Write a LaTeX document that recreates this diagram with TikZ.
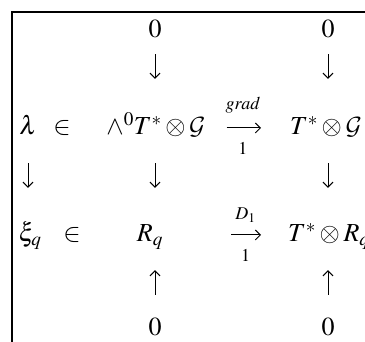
\documentclass[tikz,border=0pt]{standalone}
\usepackage{mathptmx}
\DeclareMathAlphabet{\mathcm}{OMS}{cmsy}{m}{n}
\usetikzlibrary{arrows.meta}
\tikzset{
  cd-entry/.style={inner sep=0pt, anchor=base, text height=20pt, text depth=6pt,
    font=\fontsize{26}{31}\selectfont},
  cd-map/.style={-{Straight Barb[length=5pt,width=10pt]}, line width=1pt},
  cd-label/.style={font=\fontsize{18}{21}\selectfont, inner sep=0pt},
  cd-frame/.style={line width=1.2pt},
}

\begin{document}
\begin{tikzpicture}[x=1pt, y=1pt]
  \useasboundingbox (0,0) rectangle (365,342);
  \clip (0,0) rectangle (365,342);
  % frame
  \draw[cd-frame] (12,0) -- (12,330) -- (366,330);

  % first row of zeros
  \node[cd-entry] (z1) at (155,304) {$0$};
  \node[cd-entry] (z2) at (328,304) {$0$};
  % row of lambda
  \node[cd-entry] (lam) at (28,207) {$\lambda$};
  \node[cd-entry] (in1) at (62,207) {$\in$};
  \node[cd-entry] (a1)  at (156,207) {$\wedge^0 T^* \otimes \mathcm{G}$};
  \node[cd-entry, anchor=base west] (b1) at (290,207) {$T^* \otimes \mathcm{G}$};
  % row of xi
  \node[cd-entry] (xi) at (30,100) {$\xi_q$};
  \node[cd-entry] (in2) at (72,100) {$\in$};
  \node[cd-entry] (r)  at (150,100) {$R_q$};
  \node[cd-entry, anchor=base west] (b2) at (288,100) {$T^* \otimes R_q$};
  % last row of zeros
  \node[cd-entry] (z3) at (155,6) {$0$};
  \node[cd-entry] (z4) at (328,6) {$0$};

  % vertical maps
  \draw[cd-map, shorten <=10pt, shorten >=36pt] (z1.south) -- (z1 |- a1.north);
  \draw[cd-map, shorten <=10pt, shorten >=36pt] (z2.south) -- (z2 |- b1.north);
  \draw[cd-map, shorten <=22pt, shorten >=34pt] (lam.south) -- (lam |- xi.north);
  \draw[cd-map, shorten <=22pt, shorten >=34pt] (z1 |- a1.south) -- (z1 |- r.north);
  \draw[cd-map, shorten <=22pt, shorten >=34pt] (z2 |- b1.south) -- (z2 |- b2.north);
  \draw[cd-map, shorten <=21pt, shorten >=22pt] (z3.north) -- (z3 |- r.south);
  \draw[cd-map, shorten <=21pt, shorten >=22pt] (z4.north) -- (z4 |- b2.south);

  % horizontal maps
  \draw[cd-map, shorten <=21pt, shorten >=29pt] (a1.east) -- (b1.west)
    node[cd-label, pos=0.44, above=14pt] {$\mathit{grad}$}
    node[cd-label, pos=0.44, below=14pt] {$1$};
  \draw[cd-map, shorten <=68pt, shorten >=27pt] (r.east) -- (b2.west)
    node[cd-label, pos=0.66, above=12pt] {$D_1$}
    node[cd-label, pos=0.66, below=14pt] {$1$};
\end{tikzpicture}
\end{document}
